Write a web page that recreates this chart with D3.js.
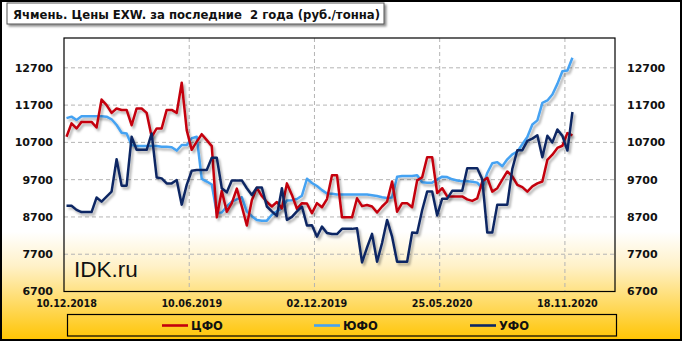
<!DOCTYPE html>
<html><head><meta charset="utf-8">
<script src="https://cdn.jsdelivr.net/npm/d3@7"></script>
<style>html,body{margin:0;padding:0;background:#fff;}svg{display:block;}</style>
</head><body>
<svg id="c" width="682" height="341"></svg>
<script>
const title = "Ячмень. Цены EXW. за последние  2 года (руб./тонна)";
const seriesNames = ["ЦФО", "ЮФО", "УФО"];
const seriesColors = ["#C4000C", "#45A2F2", "#0C2764"];
const xTickLabels = ["10.12.2018", "10.06.2019", "02.12.2019", "25.05.2020", "18.11.2020"];
const xTickIndex = [0, 25, 50, 75, 100];
const yTicks = [6700, 7700, 8700, 9700, 10700, 11700, 12700];

const cfo = [10850,11210,11075,11250,11250,11250,11100,11850,11700,11490,
 11610,11570,11570,11160,11610,11610,11490,10850,11075,11075,
 11570,11570,11490,12300,11030,10500,10720,10920,10760,10600,
 8690,9400,8840,9070,9460,8980,8470,9150,9480,9260,
 9100,8980,9100,8930,9600,9290,8920,9070,9060,8800,
 9070,8960,9180,9820,9820,8690,8690,8690,9200,8990,
 9020,8980,8820,8980,9110,9650,8840,9070,9070,8960,
 9680,9760,10300,10300,9340,9470,9250,9250,9250,9250,
 9170,9130,9200,9650,9750,9380,9470,9700,9920,9790,
 9560,9500,9380,9520,9600,9650,10230,10370,10550,10610,
 10950,10890];
const yufo = [11350,11390,11300,11400,11400,11400,11400,11400,11390,11320,
 11165,10960,10940,10630,10600,10600,10600,10600,10600,10580,
 10580,10570,10480,10630,10630,10810,10850,9720,9650,9570,
 8810,8820,8980,9110,9170,9230,8850,8720,8620,8600,
 8600,8760,8850,8935,9140,9150,9180,9270,9725,9610,
 9530,9420,9330,9320,9300,9300,9300,9300,9300,9300,
 9300,9280,9260,9230,9210,9220,9780,9800,9800,9800,
 9820,9630,9620,9620,9700,9780,9770,9710,9680,9660,
 9660,9645,9620,9470,9880,10140,10170,10060,10245,10380,
 10450,10650,10845,11180,11290,11760,11825,11985,12270,12610,
 12630,12970];
const ufo = [9000,9000,8890,8830,8830,8830,9220,9110,9245,9380,
 10250,9540,9540,10850,10500,10500,10500,10940,9760,9735,
 9600,9600,9690,9030,9560,9940,9960,9960,9960,10290,
 10290,9470,9360,9680,9680,9680,9470,9290,9490,9490,
 8980,8850,8730,9470,8620,8700,8850,8980,8470,8480,
 8170,8440,8270,8240,8240,8380,8380,8380,8395,7480,
 7880,8245,7500,8000,8620,8170,7500,7500,7500,8280,
 8270,8880,9380,9380,8740,9190,9190,9400,9400,9400,
 10005,10005,10005,9710,8280,8280,9030,9030,9030,9990,
 10490,10490,10740,10800,10890,10300,10880,10700,11045,10875,
 10480,11515];
const allSeries = [cfo, yufo, ufo];

const svg = d3.select("#c");
const W = 682, H = 341;
const defs = svg.append("defs");
const grad = defs.append("linearGradient").attr("id","bg").attr("x1",0).attr("y1",0).attr("x2",0).attr("y2",1);
grad.append("stop").attr("offset","0").attr("stop-color","#ffffff");
grad.append("stop").attr("offset","0.68").attr("stop-color","#ffffff");
grad.append("stop").attr("offset","0.78").attr("stop-color","#FFF1C8");
grad.append("stop").attr("offset","1").attr("stop-color","#FFC400");
const sh = defs.append("filter").attr("id","sh").attr("x","-5%").attr("y","-5%").attr("width","110%").attr("height","120%");
sh.append("feDropShadow").attr("dx",2).attr("dy",2.5).attr("stdDeviation",1).attr("flood-color","#000").attr("flood-opacity",0.3);
const bsh = defs.append("filter").attr("id","bsh").attr("x","-5%").attr("y","-20%").attr("width","110%").attr("height","160%");
bsh.append("feDropShadow").attr("dx",2).attr("dy",2).attr("stdDeviation",0.8).attr("flood-color","#000").attr("flood-opacity",0.45);

svg.append("rect").attr("x",0).attr("y",0).attr("width",W).attr("height",H).attr("fill","url(#bg)");
svg.append("rect").attr("x",1).attr("y",1).attr("width",W-2).attr("height",H-2).attr("fill","none").attr("stroke","#000").attr("stroke-width",2);

// plot area
const L = 64, R = 615, T = 38, B = 291.5;
const x = d3.scaleLinear().domain([0, 110]).range([L, R]);
const y = d3.scaleLinear().domain([6700, 13500]).range([B, T]);

// gridlines
const g = svg.append("g");
g.selectAll("line.h").data(yTicks.slice(1)).join("line")
  .attr("x1",L).attr("x2",R).attr("y1",d=>y(d)).attr("y2",d=>y(d))
  .attr("stroke","#b4b4b4").attr("stroke-width",1).attr("stroke-dasharray","4,3");
g.selectAll("line.v").data(xTickIndex.slice(1)).join("line")
  .attr("x1",d=>x(d)).attr("x2",d=>x(d)).attr("y1",T).attr("y2",B)
  .attr("stroke","#b4b4b4").attr("stroke-width",1).attr("stroke-dasharray","4,3");

// watermark
svg.append("text").attr("x",74).attr("y",277).attr("font-family","Liberation Sans, Arial, sans-serif")
  .attr("font-size",22.5).attr("fill","#111").text("IDK.ru");

// plot border
svg.append("rect").attr("x",L).attr("y",T).attr("width",R-L).attr("height",B-T)
  .attr("fill","none").attr("stroke","#000").attr("stroke-width",1.2);

// lines
const line = d3.line().x((d,i)=>x(i+0.5)).y(d=>y(d));
const order = [1,0,2];
order.forEach(k=>{
  svg.append("path").datum(allSeries[k]).attr("d",line).attr("fill","none")
    .attr("stroke",seriesColors[k]).attr("stroke-width",2.5).attr("stroke-linejoin","round")
    .attr("filter","url(#sh)");
});

// y axis labels
const fontB = "DejaVu Sans, Verdana, sans-serif";
svg.selectAll("text.yl").data(yTicks).join("text")
  .attr("x",53).attr("y",d=>y(d)).attr("dy","0.36em").attr("text-anchor","end")
  .attr("font-family",fontB).attr("font-weight","bold").attr("font-size",11).attr("fill","#111")
  .text(d=>d);
svg.selectAll("text.yr").data(yTicks).join("text")
  .attr("x",627).attr("y",d=>y(d)).attr("dy","0.36em").attr("text-anchor","start")
  .attr("font-family",fontB).attr("font-weight","bold").attr("font-size",11).attr("fill","#111")
  .text(d=>d);

// x labels
svg.selectAll("text.xl").data(xTickLabels).join("text")
  .attr("x",(d,i)=>x(xTickIndex[i]+0.5)).attr("y",304).attr("dy","0.36em").attr("text-anchor","middle")
  .attr("font-family",fontB).attr("font-weight","bold").attr("font-size",9.6).attr("fill","#111")
  .text(d=>d);

// title
svg.append("rect").attr("x",7).attr("y",3).attr("width",377).attr("height",21)
  .attr("fill","#fff").attr("stroke","#555").attr("stroke-width",1).attr("filter","url(#bsh)");
svg.append("text").attr("x",13).attr("y",18.5).attr("font-family",fontB).attr("font-weight","bold")
  .attr("font-size",12.5).attr("fill","#111").attr("textLength",367).attr("lengthAdjust","spacingAndGlyphs")
  .style("white-space","pre").attr("xml:space","preserve")
  .text(title);

// legend
svg.append("rect").attr("x",67.5).attr("y",314.5).attr("width",549).attr("height",21.5)
  .attr("fill","none").attr("stroke","#000").attr("stroke-width",1.2);
const legX = [162, 314, 470];
seriesNames.forEach((n,k)=>{
  svg.append("line").attr("x1",legX[k]).attr("x2",legX[k]+26).attr("y1",325.5).attr("y2",325.5)
    .attr("stroke",seriesColors[k]).attr("stroke-width",2.6);
  svg.append("text").attr("x",legX[k]+29).attr("y",325.5).attr("dy","0.36em")
    .attr("font-family",fontB).attr("font-weight","bold").attr("font-size",11.5).attr("fill","#111").text(n);
});
</script>
</body></html>
